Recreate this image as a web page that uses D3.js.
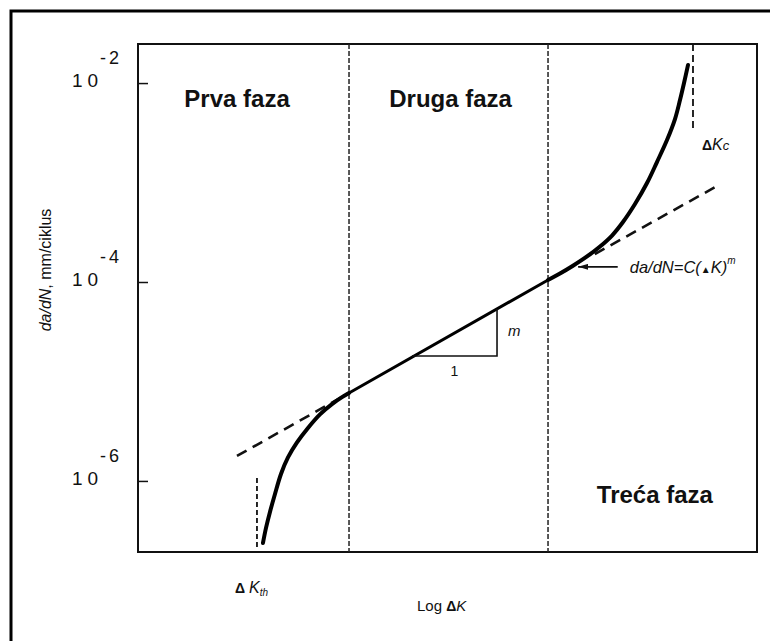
<html>
<head>
<meta charset="utf-8">
<style>
  body { margin: 0; background: #fff; }
  text { font-family: "Liberation Sans", Arial, sans-serif; fill: #111; }
</style>
</head>
<body>
<div id="chartContainer"></div>
<script src="https://d3js.org/d3.v7.min.js"></script>
<script type="text/javascript">

  // x is "log dK" in arbitrary units (0..100), y is da/dN in mm/ciklus
  var yTicks = [1e-2, 1e-4, 1e-6];
  var yTickExp = ["-2", "-4", "-6"];
  var phaseNames = ["Prva faza", "Druga faza", "Treća faza"];
  var phaseX = [16, 50.5, 83.5];
  var phaseY = [5.74e-3, 5.74e-3, 6.0e-7];
  var dividers = [34.09, 66.24];

  // stage I (threshold region)
  var stage1X = [20.19, 20.68, 21.32, 22.13, 23.10, 24.23, 25.69, 27.46, 29.40, 31.34, 32.96, 34.09];
  var stage1Y = [2.38e-7, 3.37e-7, 4.88e-7, 7.40e-7, 1.175e-6, 1.722e-6, 2.438e-6, 3.41e-6, 4.67e-6, 5.92e-6, 6.95e-6, 7.66e-6];
  // stage II (Paris law, straight line)
  var stage2X = [34.09, 66.24];
  var stage2Y = [7.66e-6, 1.047e-4];
  // stage III (fast fracture)
  var stage3X = [66.24, 68.17, 70.27, 72.54, 74.64, 76.58, 78.35, 80.29, 82.23, 83.84, 85.46, 86.75, 87.56, 88.21, 88.85];
  var stage3Y = [1.047e-4, 1.215e-4, 1.455e-4, 1.805e-4, 2.274e-4, 2.933e-4, 4.009e-4, 6.08e-4, 9.88e-4, 1.607e-3, 2.673e-3, 4.345e-3, 6.745e-3, 1.0e-2, 1.517e-2];
  // dashed extensions of the Paris line
  var extLowX = [15.99, 34.09];
  var extLowY = [1.782e-6, 7.66e-6];
  var extHighX = [73.8, 93.54];
  var extHighY = [1.91e-4, 9.22e-4];
  // slope triangle
  var triX = [44.26, 58.0, 58.0];
  var triY = [1.803e-5, 1.803e-5, 5.36e-5];
  // threshold and critical markers
  var dKthX = 19.22, dKthTop = 1.07e-6;
  var dKcX = 89.66, dKcBottom = 3.22e-3;
  var arrowX = [77.5, 71.1], arrowY = 1.42e-4;

  var svg = d3.select("#chartContainer").append("svg")
    .attr("width", 770).attr("height", 641);

  var x = d3.scaleLinear().domain([0, 100]).range([138, 757]);
  var y = d3.scaleLog().domain([1.93e-7, 2.47e-2]).range([552, 44]);

  // outer picture border (cropped on right and bottom)
  svg.append("rect")
    .attr("x", 11).attr("y", 11).attr("width", 800).attr("height", 700)
    .style("fill", "none").style("stroke", "#000").style("stroke-width", 3);

  // plot frame
  svg.append("rect")
    .attr("x", x(0)).attr("y", y(2.47e-2))
    .attr("width", x(100) - x(0)).attr("height", y(1.93e-7) - y(2.47e-2))
    .style("fill", "none").style("stroke", "#111").style("stroke-width", 2);

  // phase dividers
  svg.selectAll(".divider").data(dividers).enter().append("line")
    .attr("class", "divider")
    .attr("x1", function(d) { return x(d); }).attr("x2", function(d) { return x(d); })
    .attr("y1", y(2.47e-2)).attr("y2", y(1.93e-7))
    .style("stroke", "#222").style("stroke-width", 1.5).style("stroke-dasharray", "5,2");

  // y axis with inward ticks
  var yAxis = d3.axisLeft(y).tickValues(yTicks).tickSize(-10).tickFormat("");
  var gy = svg.append("g").attr("transform", "translate(" + x(0) + ",0)").call(yAxis);
  gy.select(".domain").remove();
  gy.selectAll(".tick line").style("stroke", "#111").style("stroke-width", 1.5);

  var tickLab = svg.selectAll(".ylab").data(yTicks).enter().append("g")
    .attr("class", "ylab")
    .attr("transform", function(d) { return "translate(0," + y(d) + ")"; });
  tickLab.append("text")
    .attr("x", 72).attr("y", 4)
    .style("font-size", "19px").style("letter-spacing", "5px")
    .text("10");
  tickLab.append("text")
    .attr("x", 100).attr("y", -19)
    .style("font-size", "18px").style("letter-spacing", "3px")
    .text(function(d, i) { return yTickExp[i]; });

  // y axis title
  var yt = svg.append("text")
    .attr("transform", "translate(51,270) rotate(-90)")
    .attr("text-anchor", "middle")
    .style("font-size", "16px");
  yt.append("tspan").style("font-style", "italic").text("da/dN");
  yt.append("tspan").text(", mm/ciklus");

  // phase titles
  svg.selectAll(".phase").data(phaseNames).enter().append("text")
    .attr("class", "phase")
    .attr("x", function(d, i) { return x(phaseX[i]); })
    .attr("y", function(d, i) { return y(phaseY[i]); })
    .attr("text-anchor", "middle")
    .style("font-size", "24px").style("font-weight", "bold")
    .text(function(d) { return d; });

  function pts(xs, ys) { return xs.map(function(v, i) { return [v, ys[i]]; }); }

  var line = d3.line()
    .x(function(d) { return x(d[0]); })
    .y(function(d) { return y(d[1]); });
  var smooth = d3.line()
    .x(function(d) { return x(d[0]); })
    .y(function(d) { return y(d[1]); })
    .curve(d3.curveCatmullRom);

  // dashed extensions
  [pts(extLowX, extLowY), pts(extHighX, extHighY)].forEach(function(p) {
    svg.append("path").attr("d", line(p))
      .style("fill", "none").style("stroke", "#111").style("stroke-width", 2.6)
      .style("stroke-dasharray", "11,7");
  });

  // marker lines for dKth and dKc
  svg.append("line")
    .attr("x1", x(dKthX)).attr("x2", x(dKthX)).attr("y1", y(dKthTop)).attr("y2", y(1.93e-7) - 4)
    .style("stroke", "#111").style("stroke-width", 1.8).style("stroke-dasharray", "5,3");
  svg.append("line")
    .attr("x1", x(dKcX)).attr("x2", x(dKcX)).attr("y1", y(2.47e-2)).attr("y2", y(dKcBottom))
    .style("stroke", "#111").style("stroke-width", 1.8).style("stroke-dasharray", "7,4");

  // crack growth curve
  svg.append("path").attr("d", smooth(pts(stage1X, stage1Y)))
    .style("fill", "none").style("stroke", "#000").style("stroke-width", 4).style("stroke-linecap", "round");
  svg.append("path").attr("d", line(pts(stage2X, stage2Y)))
    .style("fill", "none").style("stroke", "#000").style("stroke-width", 3).style("stroke-linecap", "round");
  svg.append("path").attr("d", smooth(pts(stage3X, stage3Y)))
    .style("fill", "none").style("stroke", "#000").style("stroke-width", 4).style("stroke-linecap", "round");

  // slope triangle
  svg.append("path")
    .attr("d", line(pts(triX, triY)))
    .style("fill", "none").style("stroke", "#111").style("stroke-width", 1.6);
  svg.append("text")
    .attr("x", (x(triX[0]) + x(triX[1])) / 2).attr("y", y(triY[0]) + 20)
    .attr("text-anchor", "middle").style("font-size", "14px").text("1");
  svg.append("text")
    .attr("x", x(triX[2]) + 11).attr("y", (y(triY[1]) + y(triY[2])) / 2 + 4)
    .style("font-size", "15px").style("font-style", "italic").text("m");

  // arrow to the Paris law
  svg.append("defs").append("marker")
    .attr("id", "arrow").attr("viewBox", "0 0 10 6").attr("refX", 10).attr("refY", 3)
    .attr("markerWidth", 10).attr("markerHeight", 6).attr("markerUnits", "userSpaceOnUse")
    .attr("orient", "auto")
    .append("path").attr("d", "M0,0L10,3L0,6Z").style("fill", "#111");
  svg.append("line")
    .attr("x1", x(arrowX[0])).attr("x2", x(arrowX[1]))
    .attr("y1", y(arrowY)).attr("y2", y(arrowY))
    .attr("marker-end", "url(#arrow)")
    .style("stroke", "#111").style("stroke-width", 1.6);

  var eq = svg.append("text")
    .attr("x", x(arrowX[0]) + 12).attr("y", y(arrowY) + 6)
    .style("font-size", "16.5px").style("font-style", "italic");
  eq.append("tspan").text("da/dN=C(");
  eq.append("tspan").style("font-style", "normal").style("font-size", "10px").text("▲");
  eq.append("tspan").text("K)");
  eq.append("tspan").attr("dy", -9).style("font-size", "10px").text("m");

  // dKc label
  var kc = svg.append("text").attr("x", 702).attr("y", y(dKcBottom) + 18).style("font-size", "16px");
  kc.append("tspan").style("font-weight", "bold").style("font-size", "14px").text("Δ");
  kc.append("tspan").style("font-style", "italic").text("K");
  kc.append("tspan").style("font-style", "italic").style("font-size", "13px").text("c");

  // dKth label
  var kth = svg.append("text").attr("x", 235).attr("y", 593).style("font-size", "16px");
  kth.append("tspan").style("font-weight", "bold").style("font-size", "14px").text("Δ ");
  kth.append("tspan").style("font-style", "italic").text("K");
  kth.append("tspan").attr("dy", 3).style("font-style", "italic").style("font-size", "10px").text("th");

  // x axis title
  var xt = svg.append("text").attr("x", 417).attr("y", 611).style("font-size", "15px");
  xt.append("tspan").text("Log  ");
  xt.append("tspan").style("font-weight", "bold").style("font-size", "14px").text("Δ");
  xt.append("tspan").style("font-style", "italic").text("K");

</script>
</body>
</html>
